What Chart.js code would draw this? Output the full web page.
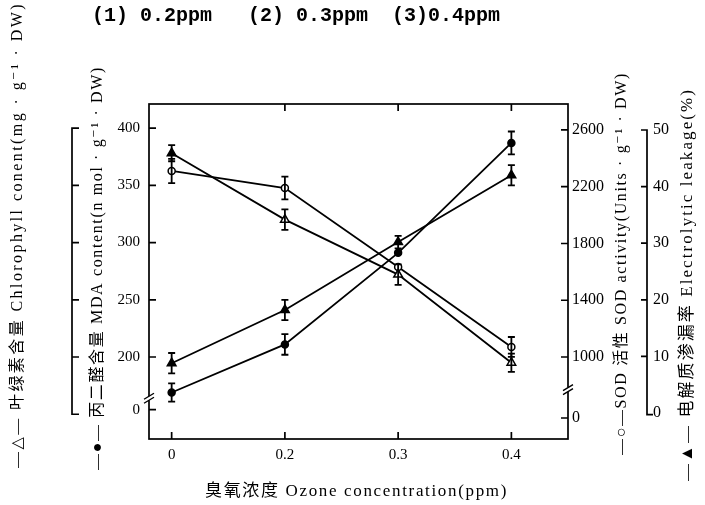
<!DOCTYPE html>
<html><head><meta charset="utf-8">
<script src="https://cdn.jsdelivr.net/npm/chart.js@4.4.1/dist/chart.umd.min.js"></script>
<style>html,body{margin:0;padding:0;background:#fff;}canvas{display:block;}</style>
</head><body>
<canvas id="c" width="705" height="505"></canvas>
<script>
// ---- data ----
const ozoneLabels = ['0', '0.2', '0.3', '0.4'];
const chlorophyll = [378, 320, 272, 195];
const chlorophyllErr = [7, 9, 9, 8];
const mda = [169, 211, 291, 387];
const mdaErr = [8, 9, 0, 10];
const sod = [2311, 2191, 1635, 1071];
const sodErr = [85, 80, 0, 70];
const leakage = [8.8, 18.2, 30.2, 42.0];
const leakageErr = [1.8, 1.8, 1.1, 1.8];
const leftTickValues = [154, 200, 250, 300, 350, 400];
const leftTickLabels = ['0', '200', '250', '300', '350', '400'];
const sodTickValues = [570, 1000, 1400, 1800, 2200, 2600];
const sodTickLabels = ['0', '1000', '1400', '1800', '2200', '2600'];
const leakTickValues = [0, 10, 20, 30, 40, 50];
const leakTickLabels = ['0', '10', '20', '30', '40', '50'];
const titleTop = '(1) 0.2ppm   (2) 0.3ppm  (3)0.4ppm';
const titleX = '臭氧浓度 Ozone concentration(ppm)';
const titleChl = '—△— 叶绿素含量 Chlorophyll conent(mg · g⁻¹ · DW)';
const titleMda = '—●— 丙二醛含量 MDA content(n mol · g⁻¹ · DW)';
const titleSod = '—○—SOD 活性 SOD activity(Units · g⁻¹ · DW)';
const titleLeak = '—▲— 电解质渗漏率 Electrolytic leakage(%)';

const SERIF = '"Liberation Serif", "DejaVu Serif", "Noto Sans CJK SC", serif';
const toXY = arr => arr.map((v, i) => ({x: i, y: v}));

function fitText(ctx, text, length) {
  ctx.letterSpacing = '0px';
  const w = ctx.measureText(text).width;
  const n = [...text].length;
  ctx.letterSpacing = ((length - w) / n) + 'px';
}
function drawVertical(ctx, text, cx, yBottom, yTop, font) {
  ctx.save();
  ctx.font = font;
  fitText(ctx, text, yBottom - yTop);
  ctx.translate(cx, yBottom);
  ctx.rotate(-Math.PI / 2);
  ctx.textAlign = 'left'; ctx.textBaseline = 'middle';
  ctx.fillStyle = '#000';
  ctx.fillText(text, 0, 0);
  ctx.restore();
}
function drawHorizontal(ctx, text, x0, x1, y, font) {
  ctx.save();
  ctx.font = font;
  fitText(ctx, text, x1 - x0);
  ctx.textAlign = 'left'; ctx.textBaseline = 'middle';
  ctx.fillStyle = '#000';
  ctx.fillText(text, x0, y);
  ctx.restore();
}

const errorBars = {
  id: 'errorBars',
  afterDatasetsDraw(chart) {
    const ctx = chart.ctx;
    const errs = [chlorophyllErr, sodErr, leakageErr, mdaErr];
    ctx.save();
    ctx.strokeStyle = '#000'; ctx.lineWidth = 1.8;
    chart.data.datasets.forEach((ds, di) => {
      const ys = chart.scales[ds.yAxisID];
      const meta = chart.getDatasetMeta(di);
      ds.data.forEach((p, i) => {
        const e = errs[di][i];
        if (!e) return;
        const x = meta.data[i].x;
        const y1 = ys.getPixelForValue(p.y + e), y2 = ys.getPixelForValue(p.y - e);
        ctx.beginPath();
        ctx.moveTo(x, y1); ctx.lineTo(x, y2);
        ctx.moveTo(x - 3.5, y1); ctx.lineTo(x + 3.5, y1);
        ctx.moveTo(x - 3.5, y2); ctx.lineTo(x + 3.5, y2);
        ctx.stroke();
      });
    });
    ctx.restore();
  }
};

const decor = {
  id: 'decor',
  afterDraw(chart) {
    const {ctx, chartArea: a, scales} = chart;
    ctx.save();
    ctx.strokeStyle = '#000'; ctx.lineWidth = 1.7;
    ctx.strokeRect(a.left, a.top, a.right - a.left, a.bottom - a.top);
    ctx.beginPath();
    ozoneLabels.forEach((_, i) => {
      const x = scales.x.getPixelForValue(i);
      ctx.moveTo(x, a.bottom); ctx.lineTo(x, a.bottom - 7);
      if (i > 0) { ctx.moveTo(x, a.top); ctx.lineTo(x, a.top + 7); }
    });
    leftTickValues.forEach(v => {
      const y = scales.yL.getPixelForValue(v);
      ctx.moveTo(a.left, y); ctx.lineTo(a.left + 7, y);
    });
    sodTickValues.forEach(v => {
      const y = scales.yS.getPixelForValue(v);
      ctx.moveTo(a.right, y); ctx.lineTo(a.right - 7, y);
    });
    ctx.stroke();
    // left bracket (chlorophyll axis)
    const bx = 72;
    const bTop = scales.yL.getPixelForValue(400), bBot = scales.yL.getPixelForValue(150);
    ctx.beginPath();
    ctx.moveTo(bx + 7, bTop); ctx.lineTo(bx, bTop); ctx.lineTo(bx, bBot); ctx.lineTo(bx + 7, bBot);
    leftTickValues.slice(1).forEach(v => {
      const y = scales.yL.getPixelForValue(v);
      ctx.moveTo(bx, y); ctx.lineTo(bx + 7, y);
    });
    ctx.stroke();
    // right bracket (leakage axis)
    const rx = scales.yE.left;
    const rTop = scales.yE.getPixelForValue(50), rBot = scales.yE.getPixelForValue(-0.3);
    ctx.beginPath();
    ctx.moveTo(rx - 6, rTop); ctx.lineTo(rx, rTop); ctx.lineTo(rx, rBot); ctx.lineTo(rx + 6, rBot);
    leakTickValues.slice(1, -1).forEach(v => {
      const y = scales.yE.getPixelForValue(v);
      ctx.moveTo(rx - 6, y); ctx.lineTo(rx, y);
    });
    ctx.stroke();
    // axis break marks
    ctx.lineWidth = 1.4;
    const lb = scales.yL.getPixelForValue(164);
    const rb = scales.yS.getPixelForValue(770);
    ctx.fillStyle = '#fff';
    ctx.fillRect(a.left - 3, lb - 2, 6, 4);
    ctx.fillRect(a.right - 3, rb - 2, 6, 4);
    ctx.beginPath();
    [[a.left, lb], [a.right, rb]].forEach(([x, y]) => {
      ctx.moveTo(x - 5, y + 1); ctx.lineTo(x + 5, y - 5);
      ctx.moveTo(x - 5, y + 5); ctx.lineTo(x + 5, y - 1);
    });
    ctx.stroke();
    // texts
    ctx.save();
    ctx.font = 'bold 20px "Liberation Mono", "DejaVu Sans Mono", monospace';
    ctx.fillStyle = '#000'; ctx.textBaseline = 'alphabetic';
    ctx.fillText(titleTop, 92, 21);
    ctx.restore();
    drawHorizontal(ctx, titleX, 205, 508, 492, '17px ' + SERIF);
    drawVertical(ctx, titleChl, 18, 468, 2, '16px ' + SERIF);
    drawVertical(ctx, titleMda, 98, 470, 66, '16px ' + SERIF);
    drawVertical(ctx, titleSod, 622, 455, 72, '16px ' + SERIF);
    drawVertical(ctx, titleLeak, 688, 481, 88, '17px ' + SERIF);
    ctx.restore();
  }
};

const tickFont = {family: SERIF, size: 15};
const rightFont = {family: SERIF, size: 16};
const common = {borderColor: '#000', borderWidth: 1.8, pointBorderColor: '#000', pointBorderWidth: 1.5, tension: 0, fill: false};

new Chart(document.getElementById('c'), {
  type: 'line',
  data: {
    datasets: [
      Object.assign({label: 'Chlorophyll', data: toXY(chlorophyll), yAxisID: 'yL', pointStyle: 'triangle', pointRadius: 5,
        pointBackgroundColor: ['#000', '#fff', '#fff', '#fff']}, common),
      Object.assign({label: 'SOD', data: toXY(sod), yAxisID: 'yS', pointStyle: 'circle', pointRadius: 3.5,
        pointBackgroundColor: '#fff'}, common),
      Object.assign({label: 'Leakage', data: toXY(leakage), yAxisID: 'yE', pointStyle: 'triangle', pointRadius: 5,
        pointBackgroundColor: '#000'}, common),
      Object.assign({label: 'MDA', data: toXY(mda), yAxisID: 'yL', pointStyle: 'circle', pointRadius: 3.5,
        pointBackgroundColor: '#000'}, common)
    ]
  },
  options: {
    responsive: false,
    animation: false,
    layout: {padding: {top: 104, left: 0, right: 0, bottom: 0}},
    plugins: {legend: {display: false}, tooltip: {enabled: false}},
    scales: {
      x: {
        type: 'linear', position: 'bottom', min: -0.2, max: 3.5,
        grid: {display: false, drawTicks: false}, border: {display: false},
        afterBuildTicks: s => { s.ticks = ozoneLabels.map((_, i) => ({value: i})); },
        afterFit: s => { s.height = 66; },
        ticks: {color: '#000', font: tickFont, padding: 7, maxRotation: 0, autoSkip: false,
          callback: v => ozoneLabels[v]}
      },
      yL: {
        type: 'linear', position: 'left', min: 128.4, max: 421,
        grid: {display: false, drawTicks: false}, border: {display: false},
        afterBuildTicks: s => { s.ticks = leftTickValues.map(v => ({value: v})); },
        afterFit: s => { s.width = 149; },
        ticks: {color: '#000', font: tickFont, padding: 9, autoSkip: false,
          callback: v => leftTickLabels[leftTickValues.indexOf(v)]}
      },
      yS: {
        type: 'linear', position: 'right', weight: 0, min: 422, max: 2783,
        grid: {display: false, drawTicks: false}, border: {display: false},
        afterBuildTicks: s => { s.ticks = sodTickValues.map(v => ({value: v})); },
        afterFit: s => { s.width = 79; },
        ticks: {color: '#000', font: rightFont, padding: 4, autoSkip: false,
          callback: v => sodTickLabels[sodTickValues.indexOf(v)]}
      },
      yE: {
        type: 'linear', position: 'right', weight: 1, min: -4.59, max: 54.59,
        grid: {display: false, drawTicks: false}, border: {display: false},
        afterBuildTicks: s => { s.ticks = leakTickValues.map(v => ({value: v})); },
        afterFit: s => { s.width = 58; },
        ticks: {color: '#000', font: rightFont, padding: 6, autoSkip: false,
          callback: v => leakTickLabels[leakTickValues.indexOf(v)]}
      }
    }
  },
  plugins: [errorBars, decor]
});
</script>
</body></html>
